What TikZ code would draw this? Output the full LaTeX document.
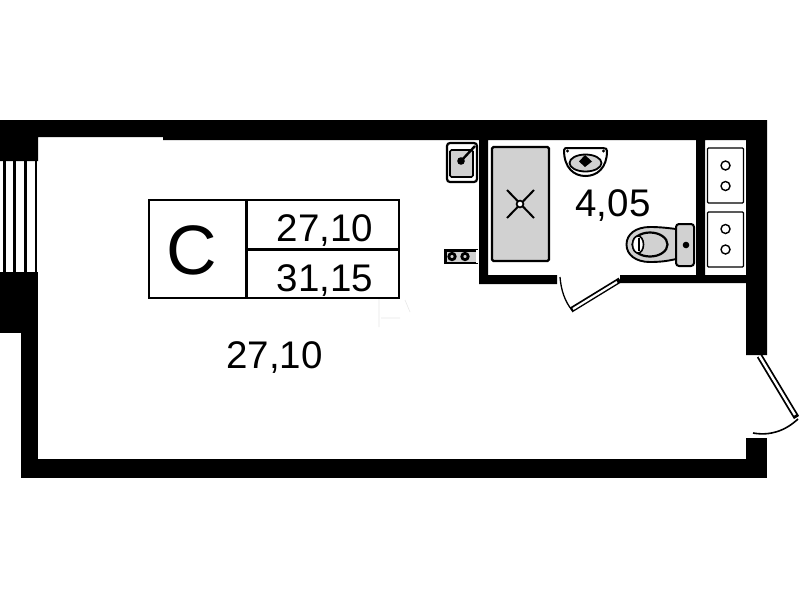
\documentclass[tikz,border=0pt]{standalone}
\usepackage{fontspec}
\setmainfont{Liberation Sans}
\definecolor{fix}{gray}{0.82}
\tikzset{
  wall/.style={fill=black,draw=none},
  fixture/.style={draw=black,line width=1.6pt,fill=fix,rounded corners=1.5pt},
  plain/.style={draw=black,line width=1.3pt,fill=white,rounded corners=1pt},
  thin leaf/.style={draw=black,line width=1.1pt},
  tbl/.style={draw=black,line width=2.2pt,line cap=rect},
  num/.style={inner sep=0pt,font=\fontsize{38.5}{40}\selectfont},
}
\begin{document}
\begin{tikzpicture}[x=1pt,y=-1pt]
\useasboundingbox (0,0) rectangle (799,600);
\fill[white] (0,0) rectangle (799,600);
% walls
\fill[wall] (0,120) -- (163,120) -- (767,120) -- (767,355) -- (746,355) -- (746,283) -- (620,283) -- (620,275) -- (746,275) -- (746,140) -- (705,140) -- (705,275) -- (696,275) -- (696,140) -- (488,140) -- (488,275) -- (557,275) -- (557,284) -- (479,284) -- (479,140) -- (163,140) -- (163,137) -- (38,137) -- (38,161) -- (0,161) -- cycle;
\fill[wall] (0,272) rectangle (38,333);
\fill[wall] (21,333) rectangle (38,478);
\fill[wall] (21,459) rectangle (767,478);
\fill[wall] (746,438) rectangle (767,478);
% window
\foreach \wx in {4.5,14.5,25.5,36} \draw[black,line width=2.2pt] (\wx,161) -- (\wx,272);
% door 1
\draw[thin leaf,line width=5.4pt] (620,280) -- (571,310);
\draw[white,line width=2.2pt] (617,282) -- (573,309);
\draw[black,line width=1.3pt] (572,310) .. controls (565,302) and (561,290) .. (560,277);
% door 2
\draw[thin leaf,line width=6pt] (759.5,356) -- (796.5,417.5);
\draw[white,line width=2.4pt] (759.5,356) -- (795,415);
\draw[black,line width=1.6pt] (798,419) .. controls (785,431) and (770,436) .. (753,433);
% kitchen sink
\draw[plain,line width=2.2pt,rounded corners=3pt] (447,143) rectangle (477,182);
\draw[fixture,line width=1.6pt] (450,150) rectangle (473,177);
\draw[black,line width=2.4pt] (461,161) -- (475,146);
\fill[black] (461,161) circle (3.8);
% stove
\fill[black] (444,249) rectangle (478,264);
\fill[fix] (447,251.5) rectangle (476,261.5);
\fill[white] (476,250) rectangle (479,263);
\draw[black,line width=2.8pt,fill=fix] (452,256.5) circle (3.2);
\draw[black,line width=2.8pt,fill=fix] (465,256.5) circle (3.2);
% shower
\draw[fixture,line width=2.2pt] (492,147) rectangle (549,261);
\draw[black,line width=2pt] (507,190) -- (534,218) (534,190) -- (507,218);
\draw[black,line width=1.7pt,fill=white] (520,204) circle (3.4);
% basin
\draw[black,line width=2pt,fill=white] (564,150) .. controls (564,148) and (566,148) .. (568,148) -- (603,148) .. controls (606,148) and (607,149) .. (607,151) .. controls (607,168) and (597,176) .. (585.5,176) .. controls (574,176) and (564,168) .. (564,150) -- cycle;
\draw[black,line width=1.8pt,fill=fix] (585.5,163) ellipse (16 and 8.5);
\fill[black] (585,155) -- (592,161.5) -- (585,167) -- (579,161.5) -- cycle;
\fill[black] (567.5,151) circle (1.7) (603.5,151) circle (1.7);
% toilet
\draw[black,line width=1.9pt,fill=fix] (676,229) .. controls (668,228) and (660,227) .. (650,227) .. controls (636,227) and (626.5,234) .. (626.5,244.5) .. controls (626.5,255) and (636,262) .. (650,262) .. controls (660,262) and (668,261) .. (676,259) -- cycle;
\draw[black,line width=2.2pt,fill=fix] (650,244.5) ellipse (17.5 and 12);
\draw[black,line width=1.6pt,fill=white] (638,244.5) ellipse (5.5 and 8.5);
\draw[black,line width=1.2pt] (639,238) -- (639,251);
\draw[fixture,line width=2pt,rounded corners=3pt] (676,224) rectangle (694,266);
\fill[black] (686,245) circle (3.3);
% hobs
\draw[plain] (707.5,148) rectangle (743.5,203);
\draw[plain] (707.5,212) rectangle (743.5,267);
\foreach \cy in {165.5,186,229,249.5} \draw[black,line width=1.4pt] (725.5,\cy) circle (4.5);
% faint trace
\draw[black!9,line width=0.6pt] (379,299) -- (379,327) (381,318) -- (400,318) (405,300) -- (410,312);
% table
\draw[tbl] (149,200) rectangle (399,298);
\draw[tbl] (246.5,200) -- (246.5,298);
\draw[tbl] (246.5,249.5) -- (399,249.5);
\node[inner sep=0pt,font=\fontsize{70}{72}\selectfont] (cls) at (192,250.5) {C};
\node[num] (lv) at (325,231) {27,10};
\node[num] (tot) at (325,280.5) {31,15};
\node[num] (room) at (274.5,358) {27,10};
\node[num] (bath) at (613,206) {4,05};
\end{tikzpicture}
\end{document}
